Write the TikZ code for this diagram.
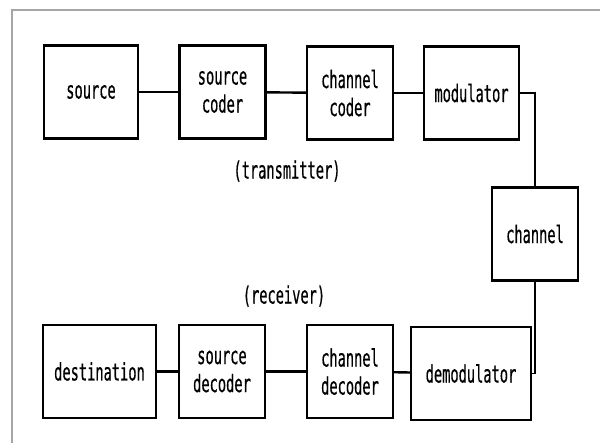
\documentclass[tikz,border=0pt]{standalone}
\usepackage{fontspec}
\newfontfamily\plotfont[FakeStretch=0.57, FakeBold=0.5]{DejaVu Sans Mono}
\usetikzlibrary{positioning}
\tikzset{every node/.style={font=\plotfont\fontsize{24}{28}\selectfont}}
\tikzstyle{block} = [rectangle, draw, line width=2.4pt, align=center,
    minimum width=86pt, minimum height=93pt, inner sep=2pt]
\tikzstyle{line} = [draw, line width=2.4pt]
\tikzstyle{label} = [inner sep=0pt]

\begin{document}
\begin{tikzpicture}[x=1pt, y=-1pt]
    \useasboundingbox (0,0) rectangle (600,442);
    \draw [gray!70, line width=1.6pt] (12,445) -- (12,10) -- (603,10);
    % transmitter row
    \node [block, minimum width=94pt] (source) at (91,92) {source};
    \node [block] (scoder) at (222.5,92) {source\\coder};
    \node [block] (ccoder) at (350,93) {channel\\coder};
    \node [block, minimum width=95pt] (modul) at (471.5,93) {modulator};
    \node [label] (tx) at (287,171) {(transmitter)};
    % channel
    \node [block] (chan) at (535,234) {channel};
    % receiver row
    \node [label] (rx) at (284,296) {(receiver)};
    \node [block, minimum width=113pt] (dest) at (99.5,371.5) {destination};
    \node [block] (sdecoder) at (222,371.5) {source\\decoder};
    \node [block] (cdecoder) at (350,371.5) {channel\\decoder};
    \node [block, minimum width=120pt] (demod) at (471,373.5) {demodulator};
    \path [line] (source) -- (scoder);
    \path [line] (scoder) -- (ccoder);
    \path [line] (ccoder) -- (modul);
    \path [line, line width=1.8pt] (modul.east) -| (chan.north);
    \path [line, line width=1.8pt] (chan.south) |- (demod.east);
    \path [line] (demod) -- (cdecoder);
    \path [line] (cdecoder) -- (sdecoder);
    \path [line] (sdecoder) -- (dest);
\end{tikzpicture}
\end{document}
